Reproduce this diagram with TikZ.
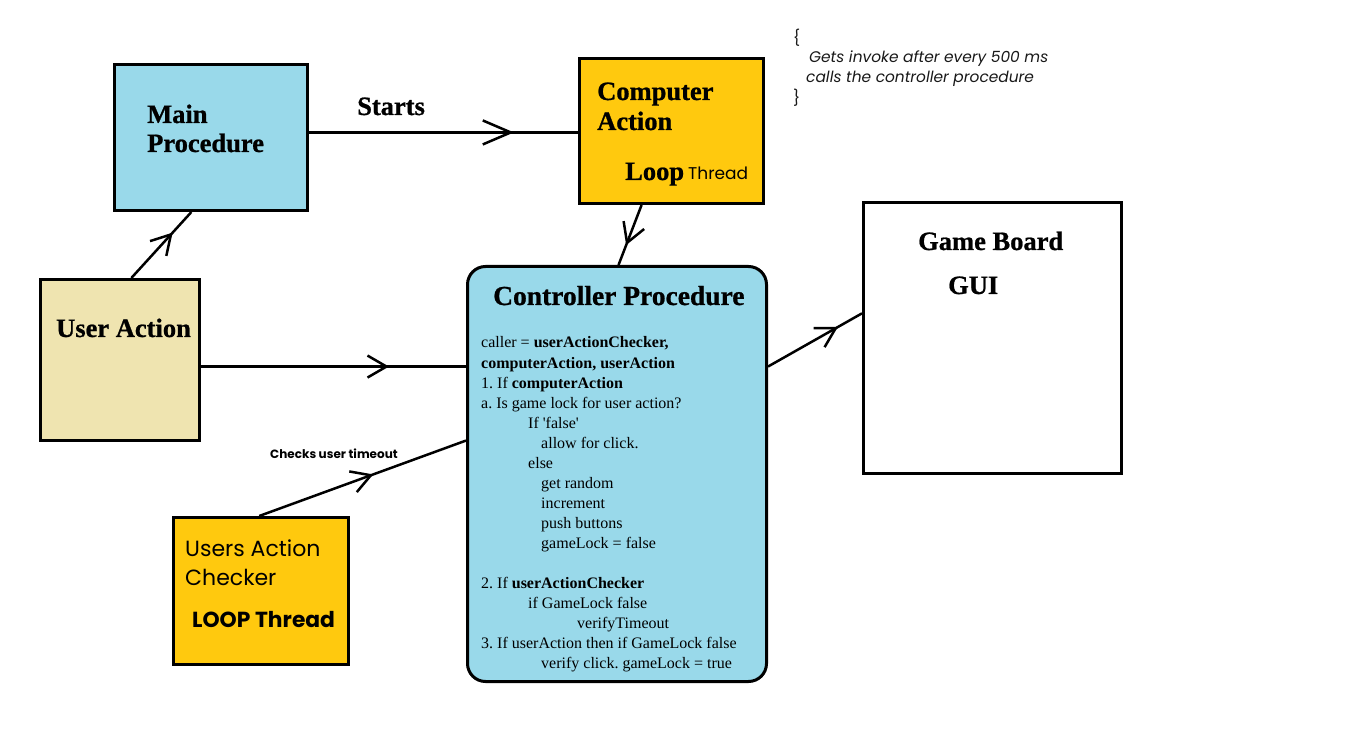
\documentclass[tikz,border=0pt]{standalone}
\usepackage{fontspec}
\setmainfont{Liberation Serif}
\newfontfamily\gothic{Poppins}
\newfontfamily\heavy{Liberation Serif Bold}[FakeBold=0.8]
\usetikzlibrary{calc,decorations.markings}
\definecolor{lblue}{RGB}{153,217,234}
\definecolor{orng}{RGB}{255,201,14}
\definecolor{beige}{RGB}{239,228,176}
\definecolor{cmt}{RGB}{25,25,25}
\frenchspacing
\tikzset{
  box/.style={draw, line width=3pt, anchor=north west, inner sep=0pt},
  tbig/.style={anchor=base west, inner sep=0pt, font=\heavy\fontsize{26.5}{30}\selectfont},
  body/.style={anchor=base west, inner sep=0pt, font=\fontsize{16}{20}\selectfont},
  gtext/.style={anchor=base west, inner sep=0pt, font=\gothic\fontsize{22}{26}\selectfont},
  ctext/.style={anchor=base west, inner sep=0pt, text=cmt, font=\gothic\itshape\fontsize{15.4}{18}\selectfont},
  conn/.style={line width=2.5pt},
  midarrow/.style={postaction={decorate}, decoration={markings, mark=at position #1 with {\draw[line width=2.5pt] (-19pt,-11pt) -- (0pt,0pt) -- (-19pt,11pt);}}},
  longarrow/.style={postaction={decorate}, decoration={markings, mark=at position #1 with {\draw[line width=2.5pt] (-28pt,-12pt) -- (0pt,0pt) -- (-28pt,12pt);}}}
}
\begin{document}
\begin{tikzpicture}[x=1pt,y=-1pt]
\fill[white] (0,0) rectangle (1360,743);
\useasboundingbox (0,0) rectangle (1360,743);

% boxes
\node[box, fill=lblue, minimum width=193pt, minimum height=146pt] (main) at (113,63) {};
\node[box, fill=orng, minimum width=184pt, minimum height=145pt] (comp) at (578,57) {};
\node[box, fill=beige, minimum width=159pt, minimum height=161pt] (user) at (39,278) {};
\node[box, fill=lblue, rounded corners=18pt, minimum width=299pt, minimum height=415pt] (ctrl) at (466,265) {};
\node[box, fill=white, minimum width=258pt, minimum height=271pt] (gb) at (862,201) {};
\node[box, fill=orng, minimum width=175pt, minimum height=147pt] (chk) at (172,516) {};

% box texts
\node[tbig] (tmain1) at (147,123) {Main};
\node[tbig] (tmain2) at (147,152) {Procedure};
\node[tbig] (tcomp1) at (597,100) {Computer};
\node[tbig] (tcomp2) at (597,130) {Action};
\node[tbig] (tloop) at (625,180) {Loop};
\node[anchor=base west, inner sep=0pt, font=\gothic\fontsize{17}{20}\selectfont] (tthr) at (688,180) {Thread};
\node[tbig] (tuser) at (56,337) {User Action};
\node[tbig, font=\heavy\fontsize{27.5}{30}\selectfont] (tctrl) at (493,305) {Controller Procedure};
\node[tbig] (tgb1) at (918,250) {Game Board};
\node[tbig] (tgb2) at (948,294) {GUI};
\node[gtext] (tchk1) at (185,556) {Users Action};
\node[gtext] (tchk2) at (185,585) {Checker};
\node[gtext, font=\gothic\bfseries\fontsize{21.8}{26}\selectfont] (tchk3) at (192,627) {LOOP Thread};
\node[tbig] (tstarts) at (357,115) {Starts};
\node[anchor=base west, inner sep=0pt, font=\gothic\bfseries\fontsize{12}{14}\selectfont] (tchecks) at (270,458) {Checks user timeout};

% controller body
\node[body] (l0) at (481,348) {caller = \textbf{userActionChecker,}};
\node[body] (l1) at (481,368) {\textbf{computerAction, userAction}};
\node[body] (l2) at (481,388) {1. If \textbf{computerAction}};
\node[body] (l3) at (481,408) {a. Is game lock for user action?};
\node[body] (l4) at (528,428) {If \textquotesingle false\textquotesingle};
\node[body] (l5) at (541,448) {allow for click.};
\node[body] (l6) at (528,468) {else};
\node[body] (l7) at (541,488) {get random};
\node[body] (l8) at (541,508) {increment};
\node[body] (l9) at (541,528) {push buttons};
\node[body] (l10) at (541,548) {gameLock = false};
\node[body] (l12) at (481,588) {2. If \textbf{userActionChecker}};
\node[body] (l13) at (528,608) {if GameLock false};
\node[body] (l14) at (577,628) {verifyTimeout};
\node[body] (l15) at (481,648) {3. If userAction then if GameLock false};
\node[body] (l16) at (541,668) {verify click. gameLock = true};

% comment
\node[ctext, font=\gothic\fontsize{15.4}{18}\selectfont] (c0) at (793,44) {\{};
\node[ctext] (c1) at (809,63) {Gets invoke after every 500 ms};
\node[ctext] (c2) at (806,83) {calls the controller procedure};
\node[ctext, font=\gothic\fontsize{15.4}{18}\selectfont] (c3) at (793,104) {\}};

% connectors
\coordinate (m1) at ($(main.north east)!0.466!(main.south east)$);
\draw[conn, longarrow=0.75] (m1) -- (m1 -| comp.west);
\draw[conn, midarrow=0.66] ($(user.north west)!0.57!(user.north east)$) -- ($(main.south west)!0.40!(main.south east)$);
\draw[conn, midarrow=0.63] ($(comp.south west)!0.34!(comp.south east)$) -- ($(ctrl.north west)!0.505!(ctrl.north east)$);
\coordinate (u1) at ($(user.north east)!0.54!(user.south east)$);
\draw[conn, midarrow=0.70] (u1) -- (u1 -| ctrl.west);
\draw[conn, midarrow=0.54] ($(chk.north west)!0.49!(chk.north east)$) -- ($(ctrl.north west)!0.42!(ctrl.south west)$);
\draw[conn, midarrow=0.72] ($(ctrl.north east)!0.243!(ctrl.south east)$) -- ($(gb.north west)!0.41!(gb.south west)$);
\end{tikzpicture}
\end{document}
